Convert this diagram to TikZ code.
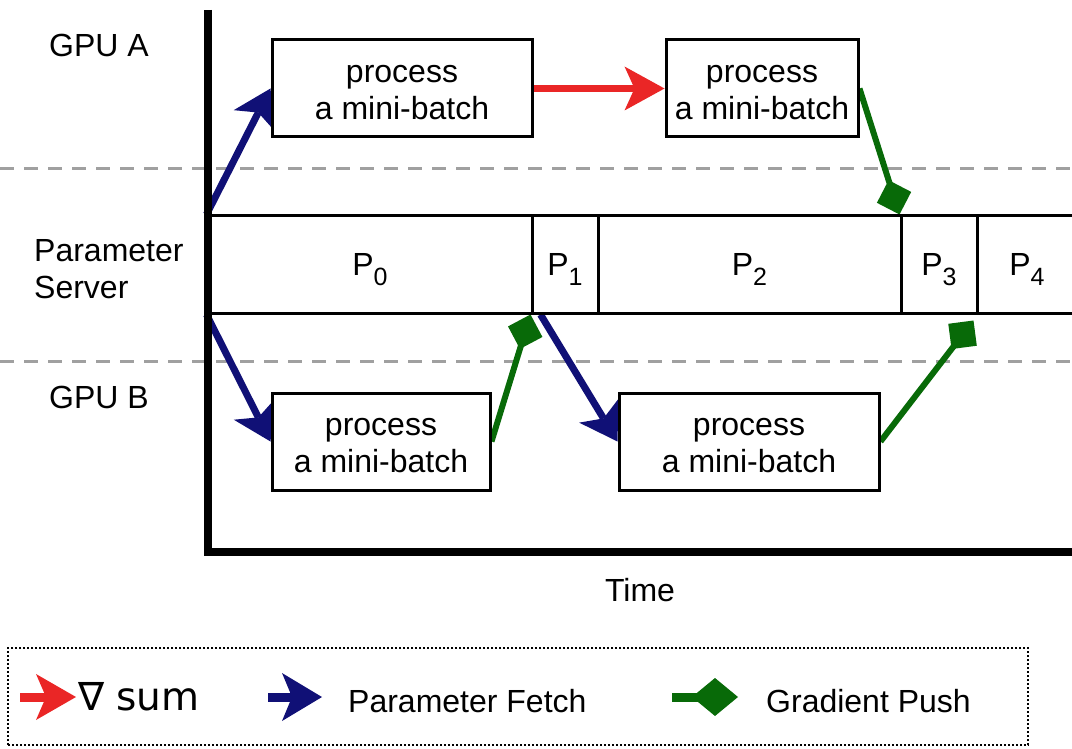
\documentclass[tikz,border=0pt]{standalone}
\usepackage{fontspec}
\setmainfont{Liberation Sans}
\newfontfamily\symfont{DejaVu Sans}
\usetikzlibrary{arrows.meta,backgrounds}

\definecolor{fetchblue}{RGB}{16,16,118}
\definecolor{sumred}{RGB}{234,38,38}
\definecolor{pushgreen}{RGB}{8,106,8}
\definecolor{lanegray}{RGB}{160,160,160}

% version label of the parameters: a P with a lowered index
\newcommand{\pver}[1]{\raisebox{-5pt}[\height][\depth]{P\raisebox{-0.3em}{\fontsize{25}{25}\selectfont #1}}}
% two-line text of a mini-batch box
\newcommand{\batchtext}{\raisebox{-5pt}[\height][\depth]{\begin{tabular}{@{}c@{}}process\\a mini-batch\end{tabular}}}

\tikzset{
  txt/.style={font=\fontsize{32}{37}\selectfont, inner sep=0pt},
  batch/.style={txt, draw, line width=3pt, fill=white, minimum height=97pt, align=center},
  cell/.style={txt, draw, line width=3pt, minimum height=97pt},
  lane/.style={lanegray, line width=3pt, dash pattern=on 14pt off 10pt},
  fetch/.style={fetchblue, line width=7pt, -{Stealth[length=36pt,width=46pt,inset=9pt,line width=0pt]}},
  gradsum/.style={sumred, line width=7pt, -{Stealth[length=40pt,width=44pt,inset=10pt,line width=0pt]}},
  push/.style={pushgreen, line width=6pt, -{Diamond[length=36pt,width=36pt,line width=0pt]}},
}

\begin{document}
\begin{tikzpicture}[x=1pt,y=-1pt]
  \useasboundingbox (0,0) rectangle (1072,749);

  % lane labels
  \node[txt] (gpuA) at (99,45) {GPU A};
  \node[txt, anchor=west, align=left] (server) at (34,269) {Parameter\\Server};
  \node[txt] (gpuB) at (99,397) {GPU B};

  % parameter server versions
  \node[cell, minimum width=324pt] (p0) at (370,264.5) {\pver{0}};
  \node[cell, minimum width=66pt]  (p1) at (565,264.5) {\pver{1}};
  \node[cell, minimum width=303pt] (p2) at (749.5,264.5) {\pver{2}};
  \node[cell, minimum width=76pt]  (p3) at (939,264.5) {\pver{3}};
  \node[cell, minimum width=100pt] (p4) at (1027,264.5) {\pver{4}};

  % mini-batches on the workers
  \node[batch, minimum width=260pt] (a1) at (402,88.5) {\batchtext};
  \node[batch, minimum width=192pt] (a2) at (762,88.5) {\batchtext};
  \node[batch, minimum width=218pt] (b1) at (381,441.5) {\batchtext};
  \node[batch, minimum width=260pt] (b2) at (749,441.5) {\batchtext};

  % time axis
  \draw[line width=8pt] (208,10) -- (208,552) -- (1072,552);
  \node[txt] (time) at (640,590) {Time};

  \begin{scope}[on background layer]
    \draw[lane] (0,169) -- (1072,169);
    \draw[lane] (0,361) -- (1072,361);

    \draw[fetch] (p0.north west) -- (a1.west);
    \draw[fetch] (p0.south west) -- (b1.west);
    \draw[fetch] ([xshift=10pt]p1.south west) -- (b2.west);
    \draw[gradsum] (a1.east) -- (a2.west);
    \draw[push] (a2.east) -- (p3.north west);
    \draw[push] (b1.east) -- (p1.south west);
    \draw[push] (b2.east) -- ([xshift=-5pt,yshift=-6pt]p3.south east);
  \end{scope}

  % legend
  \node[draw, line width=2pt, dash pattern=on 2pt off 2pt, minimum width=1020pt, minimum height=97pt, inner sep=0pt] (legend) at (518,696.5) {};
  \coordinate (ls0) at (20,697);  \coordinate (ls1) at (76,697);
  \coordinate (lf0) at (268,697); \coordinate (lf1) at (322,697);
  \coordinate (lp0) at (672,697); \coordinate (lp1) at (738,697);
  \draw[sumred, line width=9pt, -{Stealth[length=40pt,width=46pt,inset=10pt,line width=0pt]}] (ls0) -- (ls1);
  \draw[fetchblue, line width=9pt, -{Stealth[length=40pt,width=48pt,inset=10pt,line width=0pt]}] (lf0) -- (lf1);
  \draw[pushgreen, line width=9pt, -{Diamond[length=46pt,width=38pt,line width=0pt]}] (lp0) -- (lp1);
  \node[anchor=west, inner sep=0pt, font=\symfont\fontsize{39}{42}\selectfont] (lsum) at (78,697) {∇ sum};
  \node[txt, anchor=west] (lfetch) at (348,701) {Parameter Fetch};
  \node[txt, anchor=west] (lpush) at (766,701) {Gradient Push};
\end{tikzpicture}
\end{document}
